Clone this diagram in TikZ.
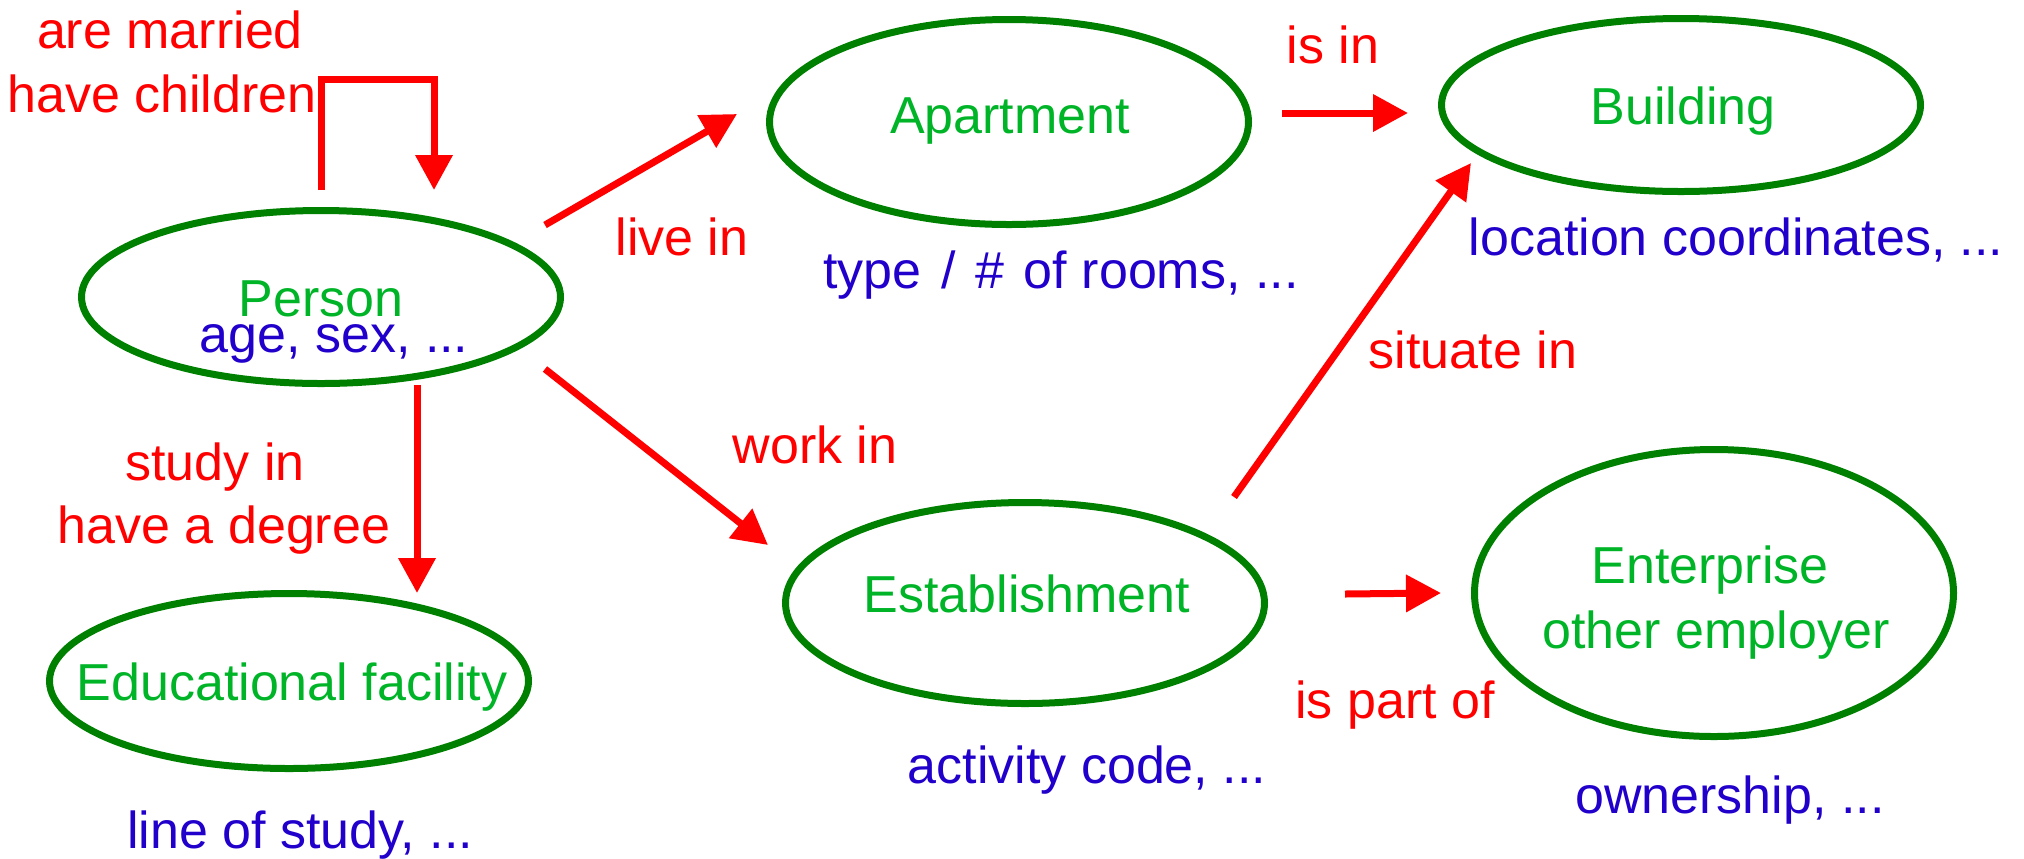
\documentclass[tikz,border=0pt]{standalone}
\usepackage{fontspec}
\setmainfont{Liberation Sans}
\usetikzlibrary{arrows.meta,calc,shapes.geometric}
\definecolor{entline}{RGB}{0,128,0}
\definecolor{entgreen}{RGB}{0,180,40}
\definecolor{attrblue}{RGB}{34,0,204}
\definecolor{relred}{RGB}{255,0,0}

\begin{document}
\begin{tikzpicture}[x=0.5pt,y=-0.5pt,
  every node/.style={font=\fontsize{26pt}{30pt}\selectfont, inner sep=0pt},
  ent/.style={ellipse, draw=entline, line width=3.5pt, minimum width=239.5pt},
  enttxt/.style={anchor=base, text=entgreen},
  attr/.style={anchor=base, text=attrblue},
  rellab/.style={anchor=base, text=relred},
  rel/.style={draw=relred, line width=3.5pt, -{Triangle[length=17.5pt,width=18pt]}}]
  \useasboundingbox (0,0) rectangle (2024,858);

  % entities
  \node[ent, minimum height=86.5pt]  (person) at (321,297)  {};
  \node[ent, minimum height=87.5pt]  (edu)    at (289,681)  {};
  \node[ent, minimum height=102.5pt] (apart)  at (1009,122) {};
  \node[ent, minimum height=86.5pt]  (build)  at (1681,105) {};
  \node[ent, minimum height=100.5pt] (estab)  at (1025,603) {};
  \node[ent, minimum height=143.5pt] (enter)  at (1714,593) {};

  % entity names and attributes
  \node[enttxt] (persont) at (321,316)  {Person};
  \node[attr]   (persona) at (334,352)  {age, sex, ...};
  \node[enttxt] (edut)    at (292,700)  {Educational facility};
  \node[attr]   (edua)    at (300,848)  {line of study, ...};
  \node[enttxt] (apartt)  at (1010,133) {Apartment};
  \node[attr, anchor=base west] (aparta) at (823,288)
    {type\hspace{0.1em} / \hspace{0.1em}\#\hspace{0.1em} of rooms, ...};
  \node[enttxt] (buildt)  at (1683,124) {Building};
  \node[attr]   (builda)  at (1736,255) {location coordinates, ...};
  \node[enttxt] (estabt)  at (1027,612) {Establishment};
  \node[attr]   (estaba)  at (1087,783) {activity code, ...};
  \node[enttxt] (entert)  at (1710,583) {Enterprise};
  \node[enttxt] (enterb)  at (1716,648) {other employer};
  \node[attr]   (entera)  at (1730,813) {ownership, ...};

  % relation labels
  \node[rellab] (marr)    at (170,48)   {are married};
  \node[rellab] (child)   at (162,112)  {have children};
  \node[rellab] (study)   at (215,480)  {study in};
  \node[rellab] (degree)  at (224,543)  {have a degree};
  \node[rellab] (live)    at (682,255)  {live in};
  \node[rellab] (work)    at (815,463)  {work in};
  \node[rellab] (isin)    at (1333,63)  {is in};
  \node[rellab] (situate) at (1473,368) {situate in};
  \node[rellab] (partof)  at (1395,718) {is part of};

  % relations
  \draw[rel] ($(person.north)+(0,-17)$) -- ++(0,-111) -| ($(person.north)+(113,-17)$);
  \draw[rel] ($(person.center)+(96,88)$) -- ($(edu.center)+(128,-88)$);
  \draw[rel] ($(person.center)+(224,-72)$) -- ($(apart.center)+(-272,-8)$);
  \draw[rel] ($(person.center)+(224,72)$) -- ($(estab.center)+(-257,-58)$);
  \draw[rel] ($(apart.center)+(273,-9)$) -- ($(build.center)+(-273,8)$);
  \draw[rel] ($(estab.center)+(209,-106)$) -- ($(build.center)+(-210,58)$);
  \draw[rel] ($(estab.center)+(320,-9)$) -- ($(enter.center)+(-273,0)$);
\end{tikzpicture}
\end{document}
